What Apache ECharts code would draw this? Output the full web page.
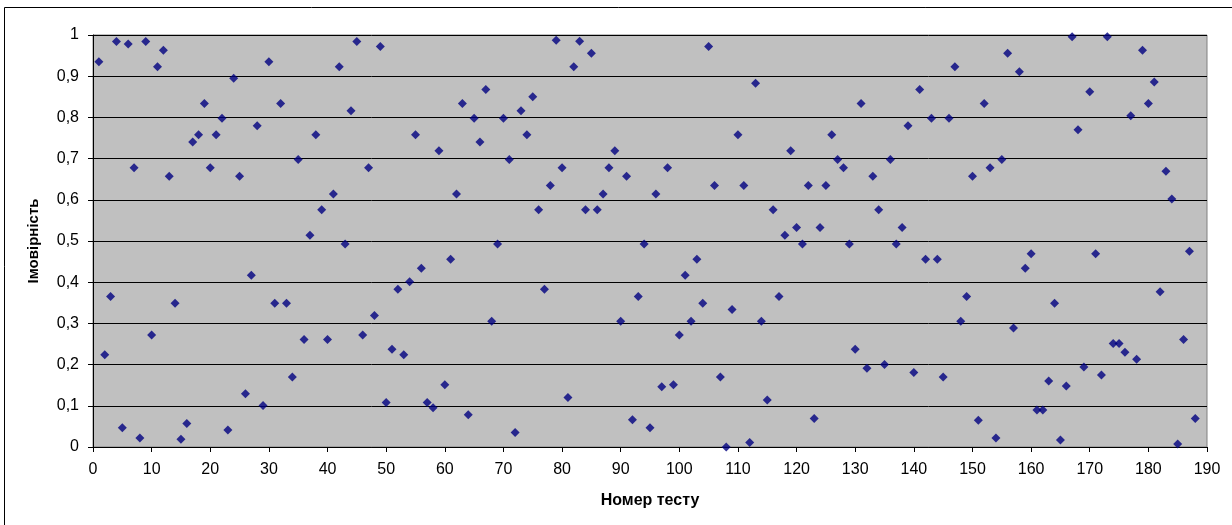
<!DOCTYPE html>
<html>
<head>
<meta charset="utf-8">
<script src="https://cdn.jsdelivr.net/npm/echarts@6/dist/echarts.min.js"></script>
<style>
  html, body { margin: 0; padding: 0; background: #fff; }
  #chart { width: 1232px; height: 525px; }
</style>
</head>
<body>
<div id="chart"></div>
<script>
// probability for test number 1..188
const probability = [
  0.935, 0.224, 0.365, 0.984, 0.047, 0.978, 0.678, 0.022, 0.984, 0.272,
  0.923, 0.963, 0.657, 0.349, 0.019, 0.057, 0.740, 0.758, 0.834, 0.678,
  0.758, 0.798, 0.041, 0.895, 0.657, 0.129, 0.417, 0.780, 0.101, 0.935,
  0.349, 0.834, 0.349, 0.170, 0.698, 0.261, 0.514, 0.758, 0.576, 0.261,
  0.614, 0.923, 0.493, 0.816, 0.984, 0.272, 0.678, 0.319, 0.972, 0.108,
  0.237, 0.383, 0.224, 0.401, 0.758, 0.434, 0.108, 0.095, 0.719, 0.151,
  0.456, 0.614, 0.834, 0.078, 0.798, 0.740, 0.868, 0.305, 0.493, 0.798,
  0.698, 0.035, 0.816, 0.758, 0.850, 0.576, 0.383, 0.635, 0.987, 0.678,
  0.120, 0.923, 0.985, 0.576, 0.956, 0.576, 0.614, 0.678, 0.719, 0.305,
  0.657, 0.066, 0.365, 0.493, 0.047, 0.614, 0.146, 0.678, 0.151, 0.272,
  0.417, 0.305, 0.456, 0.349, 0.972, 0.635, 0.170, 0.000, 0.334, 0.758,
  0.635, 0.011, 0.883, 0.305, 0.114, 0.576, 0.365, 0.514, 0.719, 0.533,
  0.493, 0.635, 0.069, 0.533, 0.635, 0.758, 0.698, 0.678, 0.493, 0.237,
  0.834, 0.191, 0.657, 0.576, 0.200, 0.698, 0.493, 0.533, 0.780, 0.181,
  0.868, 0.456, 0.798, 0.456, 0.170, 0.798, 0.923, 0.305, 0.365, 0.657,
  0.065, 0.834, 0.678, 0.022, 0.698, 0.956, 0.289, 0.911, 0.434, 0.469,
  0.090, 0.090, 0.160, 0.349, 0.017, 0.148, 0.996, 0.770, 0.194, 0.862,
  0.469, 0.175, 0.996, 0.251, 0.251, 0.230, 0.804, 0.213, 0.963, 0.834,
  0.886, 0.377, 0.669, 0.602, 0.007, 0.261, 0.475, 0.069
];
const xTitle = 'Номер тесту';
const yTitle = 'Імовірність';

const FONT = '"Liberation Sans", Arial, sans-serif';
const points = probability.map((v, i) => [i + 1, v]);

const chart = echarts.init(document.getElementById('chart'));
chart.setOption({
  animation: false,
  backgroundColor: '#fff',
  textStyle: { fontFamily: FONT },
  // outer chart frame (right and bottom edges fall outside the picture)
  graphic: [{
    type: 'rect',
    shape: { x: 4.5, y: 7.5, width: 1240, height: 530 },
    style: { fill: 'none', stroke: '#000', lineWidth: 1 },
    silent: true
  }],
  grid: {
    left: 93, top: 35, width: 1114, height: 412,
    show: true,
    backgroundColor: '#C0C0C0',
    borderColor: '#808080',
    borderWidth: 1
  },
  xAxis: {
    type: 'value',
    min: 0, max: 190, interval: 10,
    name: xTitle,
    nameLocation: 'middle',
    nameGap: 46,
    nameTextStyle: { fontFamily: FONT, fontSize: 16, fontWeight: 'bold', color: '#000' },
    axisLine: { show: true, lineStyle: { color: '#000', width: 1 } },
    axisTick: { show: true, inside: false, length: 5, lineStyle: { color: '#000' } },
    axisLabel: { fontFamily: FONT, fontSize: 16, color: '#000', margin: 15 },
    splitLine: { show: false }
  },
  yAxis: {
    type: 'value',
    min: 0, max: 1, interval: 0.1,
    name: yTitle,
    nameLocation: 'middle',
    nameGap: 52,
    nameRotate: 90,
    nameTextStyle: { fontFamily: FONT, fontSize: 15, fontWeight: 'bold', color: '#000' },
    axisLine: { show: true, lineStyle: { color: '#000', width: 1 } },
    axisTick: { show: true, inside: false, length: 5, lineStyle: { color: '#000' } },
    axisLabel: {
      fontFamily: FONT, fontSize: 16, color: '#000', margin: 14,
      formatter: v => String(+v.toFixed(1)).replace('.', ',')
    },
    splitLine: { show: true, lineStyle: { color: '#000', width: 1 } }
  },
  series: [{
    type: 'scatter',
    data: points,
    symbol: 'diamond',
    symbolSize: [9, 9],
    itemStyle: { color: '#000080' }
  }]
});
</script>
</body>
</html>
